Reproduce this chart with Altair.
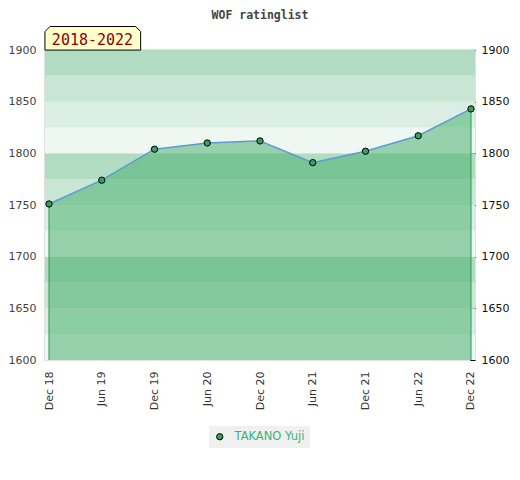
import altair as alt
import pandas as pd

# ---- data ----
periods = ["Dec 18", "Jun 19", "Dec 19", "Jun 20", "Dec 20", "Jun 21", "Dec 21", "Jun 22", "Dec 22"]
ratings = [1751, 1774, 1804, 1810, 1812, 1791, 1802, 1817, 1843]
player = "TAKANO Yuji"
span_label = "2018-2022"
title_text = "WOF ratinglist"

band_lo = [1600, 1625, 1650, 1675, 1700, 1725, 1750, 1775, 1800, 1825, 1850, 1875]
band_hi = [1625, 1650, 1675, 1700, 1725, 1750, 1775, 1800, 1825, 1850, 1875, 1900]
band_shade = ["#eef7f2", "#dbeee3", "#c9e6d5", "#b2dcc2",
              "#eef7f2", "#dbeee3", "#c9e6d5", "#b2dcc2",
              "#eef7f2", "#dbeee3", "#c9e6d5", "#b2dcc2"]

y_major = [1600, 1650, 1700, 1750, 1800, 1850, 1900]
y_minor = list(range(1600, 1901, 10))
Y_MIN, Y_MAX = 1600, 1900

df = pd.DataFrame({"period": periods, "rating": ratings, "player": [player] * len(periods)})
edges = df.iloc[[0, len(df) - 1]]
bands = pd.DataFrame({"lo": band_lo, "hi": band_hi, "shade": band_shade})
label_df = pd.DataFrame({"t": [span_label]})

yscale = alt.Scale(domain=[Y_MIN, Y_MAX], nice=False, zero=False)
xenc = alt.X("period:O", sort=periods,
             scale=alt.Scale(type="point", padding=0.076),
             axis=alt.Axis(title=None, labelAngle=-90, ticks=False, domain=False,
                           labelPadding=11, labelFont="DejaVu Sans", labelFontSize=11,
                           labelColor="#333333", grid=False))

band_layer = alt.Chart(bands).mark_rect().encode(
    y=alt.Y("lo:Q", scale=yscale,
            axis=alt.Axis(title=None, orient="left", values=y_major, ticks=False, domain=False,
                          grid=False, format="d", labelPadding=9, labelFont="DejaVu Sans",
                          labelFontSize=11, labelColor="#444444", labelFlush=False,
                          labelOverlap=False)),
    y2="hi:Q",
    fill=alt.Fill("shade:N", scale=None),
)

area_layer = alt.Chart(df).mark_area(color="#40ac66", opacity=0.5).encode(
    x=xenc,
    y=alt.Y("rating:Q", scale=yscale, axis=None),
    y2=alt.datum(Y_MIN),
)

edge_layer = alt.Chart(edges).mark_rule(color="#3aa864", strokeWidth=1.2).encode(
    x=xenc,
    y=alt.Y("rating:Q", scale=yscale,
            axis=alt.Axis(title=None, orient="right", values=y_minor, domain=False, grid=False,
                          offset=-5, tickColor="#000000", format="d",
                          tickSize=alt.ExprRef("datum.value % 50 === 0 ? 5 : 3"),
                          labelExpr="datum.value % 50 === 0 ? datum.label : ''",
                          labelPadding=6, labelFont="DejaVu Sans", labelFontSize=11,
                          labelColor="#111111", labelFlush=False, labelOverlap=False)),
    y2=alt.datum(Y_MIN),
)

line_layer = alt.Chart(df).mark_line(color="#5b9bd5", strokeWidth=1.5).encode(
    x=xenc,
    y=alt.Y("rating:Q", scale=yscale, axis=None),
)

point_layer = alt.Chart(df).mark_point(filled=True, stroke="#000000", strokeWidth=1,
                                       size=40, opacity=1).encode(
    x=xenc,
    y=alt.Y("rating:Q", scale=yscale, axis=None),
    fill=alt.Fill("player:N", scale=alt.Scale(domain=[player], range=["#3a9e5c"]),
                  legend=alt.Legend(title=None, orient="none", legendX=164, legendY=376,
                                    fillColor="#f0f0f0", padding=5, labelColor="#3cb371",
                                    labelFont="DejaVu Sans", labelFontSize=11.5, labelOffset=9,
                                    symbolStrokeColor="#000000", symbolStrokeWidth=1,
                                    symbolSize=40, symbolType="circle")),
)

box_shape = "M-1,0.2463L-1,-0.1411L-0.8947,-0.2463L0.8947,-0.2463L1,-0.1411L1,0.2463Z"
box_layer = alt.Chart(label_df).mark_point(shape=box_shape, size=9158, filled=True,
                                           fill="#ffffcc", stroke="#000000", strokeWidth=1,
                                           opacity=1).encode(
    x=alt.value(47.8), y=alt.value(-11.7)
)
text_layer = alt.Chart(label_df).mark_text(font="DejaVu Sans Mono", fontSize=15,
                                           color="#8b0000", align="center",
                                           baseline="middle").encode(
    x=alt.value(47.5), y=alt.value(-10.5), text="t:N"
)

chart = alt.layer(band_layer, area_layer, edge_layer, line_layer, point_layer,
                  box_layer, text_layer).resolve_scale(y="independent").properties(
    width=430, height=310,
    title=alt.TitleParams(title_text, font="DejaVu Sans Mono", fontSize=11.5,
                          fontWeight="bold", color="#444444", anchor="middle", offset=3),
    padding={"left": 0, "top": 2, "right": 0, "bottom": 0},
    background="#ffffff",
).configure_view(stroke="#d8d8d8", strokeWidth=1.5)

chart.save("out.html", embed_options={"renderer": "svg", "actions": False})
